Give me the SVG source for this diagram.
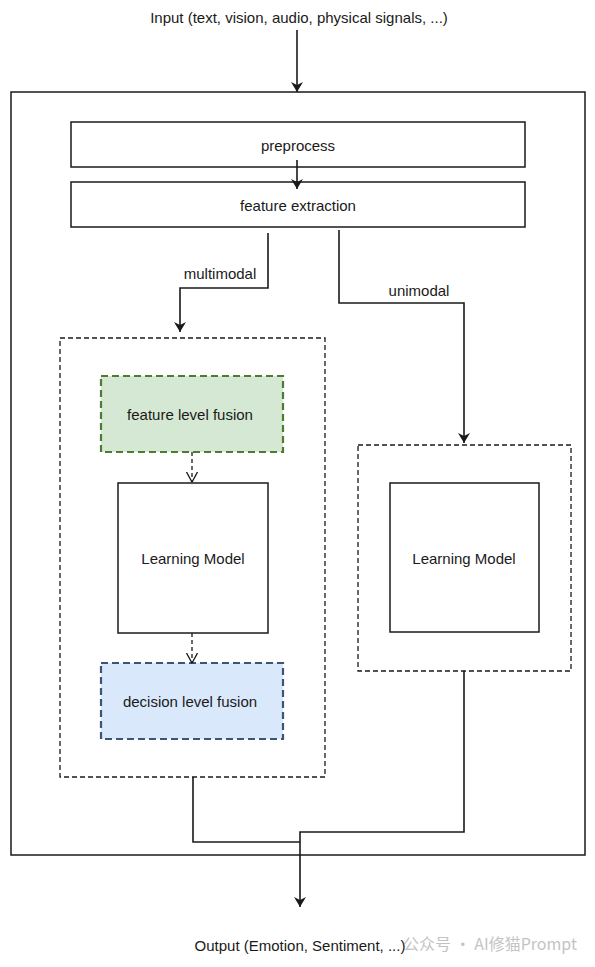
<svg xmlns="http://www.w3.org/2000/svg" width="595" height="967" viewBox="0 0 595 967">
<style>
text{font-family:"Liberation Sans",Arial,sans-serif;font-size:15px;fill:#1a1a1a;text-anchor:middle;dominant-baseline:central}
.box{fill:#fff;stroke:#1a1a1a;stroke-width:1.5}
.dash{fill:none;stroke:#1a1a1a;stroke-width:1.3;stroke-dasharray:5 3}
.line{fill:none;stroke:#1a1a1a;stroke-width:1.6}
.dline{fill:none;stroke:#1a1a1a;stroke-width:1.3;stroke-dasharray:4 3}
</style>
<defs>
<marker id="arr" viewBox="0 0 10 12" refX="10" refY="6" markerWidth="12" markerHeight="12" markerUnits="userSpaceOnUse" orient="auto">
<path d="M0,0 L10,6 L0,12 L3,6 Z" fill="#1a1a1a"/>
</marker>
<marker id="open" viewBox="0 0 10 12" refX="10" refY="6" markerWidth="11" markerHeight="12" markerUnits="userSpaceOnUse" orient="auto">
<path d="M0,0.5 L10,6 L0,11.5" fill="none" stroke="#1a1a1a" stroke-width="1.3"/>
</marker>
</defs>
<rect width="595" height="967" fill="#fff"/>
<g id="input"><text x="299" y="17">Input (text, vision, audio, physical signals, ...)</text></g>
<g id="system"><rect x="11" y="92" width="574" height="763" fill="none" stroke="#1a1a1a" stroke-width="1.5"/></g>
<g id="preprocess"><rect class="box" x="71" y="122" width="454" height="45"/><text x="298" y="145">preprocess</text></g>
<g id="feature-extraction"><rect class="box" x="71" y="182" width="454" height="45"/><text x="298" y="205">feature extraction</text></g>
<g id="multimodal-group"><rect class="dash" x="60" y="338" width="265" height="439"/></g>
<g id="unimodal-group"><rect class="dash" x="358" y="445" width="213" height="226"/></g>
<g id="feature-level-fusion"><rect x="101" y="376" width="182" height="76" fill="#d5e8d4" stroke="#4e7a32" stroke-width="2.2" stroke-dasharray="7 4"/><text x="190" y="414">feature level fusion</text></g>
<g id="learning-model-1"><rect class="box" x="118" y="483" width="150" height="150"/><text x="193" y="558">Learning Model</text></g>
<g id="decision-level-fusion"><rect x="101" y="663" width="182" height="76" fill="#dae8fc" stroke="#3b5575" stroke-width="2.2" stroke-dasharray="7 4"/><text x="190" y="701">decision level fusion</text></g>
<g id="learning-model-2"><rect class="box" x="390" y="483" width="149" height="149"/><text x="464" y="558">Learning Model</text></g>
<g id="output"><text x="300" y="945">Output (Emotion, Sentiment, ...)</text></g>
<g id="connectors">
<path class="line" d="M297,30 V92" marker-end="url(#arr)"/>
<path class="line" d="M297,160 V189" marker-end="url(#arr)"/>
<path class="line" d="M268,233 V288 H180 V332" marker-end="url(#arr)"/>
<text x="220" y="273">multimodal</text>
<path class="line" d="M339,230 V303 H464 V443" marker-end="url(#arr)"/>
<text x="419" y="290">unimodal</text>
<path class="dline" d="M192,452 V482" marker-end="url(#open)"/>
<path class="dline" d="M192,633 V663" marker-end="url(#open)"/>
<path class="line" d="M193,777 V842 H300"/>
<path class="line" d="M464,671 V832 H300 V907" marker-end="url(#arr)"/>
</g>
<g id="watermark" opacity="0.5"><text x="490" y="943" style="fill:#888;font-family:'Noto Sans CJK SC','Liberation Sans',sans-serif;font-size:16px">公众号 · AI修猫Prompt</text></g>
</svg>
